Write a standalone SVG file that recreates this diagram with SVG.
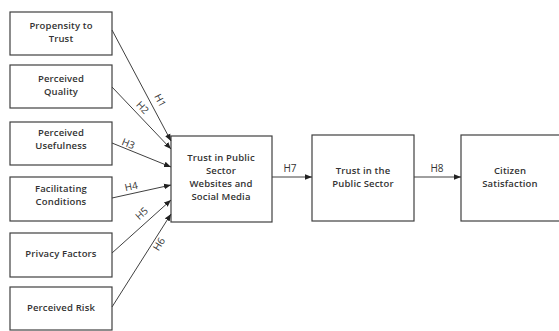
<svg xmlns="http://www.w3.org/2000/svg" width="559" height="331" viewBox="0 0 559 331">
<style>
.box{fill:#fff;stroke:#404040;stroke-width:1.2}
.t{font-family:"Open Sans","Liberation Sans",sans-serif;font-size:9.5px;letter-spacing:0.15px;font-weight:600;fill:#333;text-anchor:middle}
.c{stroke:#404040;stroke-width:1;fill:none;marker-end:url(#ah)}
.l{font-family:"Open Sans","Liberation Sans",sans-serif;font-size:10px;fill:#333;text-anchor:middle}
</style>
<defs>
<marker id="ah" viewBox="0 0 10 10" refX="10" refY="5" markerWidth="7" markerHeight="7" orient="auto" markerUnits="userSpaceOnUse">
<path d="M0,1 L10,5 L0,9 z" fill="#222"/>
</marker>
</defs>
<rect width="559" height="331" fill="#fff"/>
<g id="n1"><rect class="box" x="10" y="12" width="102" height="43"/><text class="t" x="61" y="29">Propensity to</text><text class="t" x="61" y="42">Trust</text></g>
<g id="n2"><rect class="box" x="10" y="65" width="102" height="43"/><text class="t" x="61" y="82">Perceived</text><text class="t" x="61" y="95">Quality</text></g>
<g id="n3"><rect class="box" x="10" y="122" width="102" height="43"/><text class="t" x="61" y="136">Perceived</text><text class="t" x="61" y="149">Usefulness</text></g>
<g id="n4"><rect class="box" x="10" y="177" width="102" height="44"/><text class="t" x="61" y="192">Facilitating</text><text class="t" x="61" y="205">Conditions</text></g>
<g id="n5"><rect class="box" x="10" y="233" width="102" height="44"/><text class="t" x="61" y="257">Privacy Factors</text></g>
<g id="n6"><rect class="box" x="10" y="287" width="102" height="43"/><text class="t" x="61" y="311">Perceived Risk</text></g>
<g id="n7"><rect class="box" x="171" y="136" width="101" height="86"/><text class="t" x="221" y="161">Trust in Public</text><text class="t" x="221" y="174">Sector</text><text class="t" x="221" y="187">Websites and</text><text class="t" x="221" y="200">Social Media</text></g>
<g id="n8"><rect class="box" x="312" y="135" width="102" height="86"/><text class="t" x="363" y="174">Trust in the</text><text class="t" x="363" y="187">Public Sector</text></g>
<g id="n9"><rect class="box" x="461" y="135" width="103" height="86"/><text class="t" x="510" y="174">Citizen</text><text class="t" x="510" y="187">Satisfaction</text></g>
<g id="connectors">
<line class="c" x1="112" y1="30" x2="171" y2="141"/>
<line class="c" x1="112" y1="87" x2="171" y2="149"/>
<line class="c" x1="112" y1="143" x2="171" y2="167"/>
<line class="c" x1="112" y1="198" x2="171" y2="185"/>
<line class="c" x1="112" y1="253" x2="171" y2="200"/>
<line class="c" x1="112" y1="307" x2="171" y2="214"/>
<line class="c" x1="272" y1="177" x2="312" y2="177"/>
<line class="c" x1="414" y1="177" x2="461" y2="177"/>
<text class="l" transform="translate(157,102) rotate(62)">H1</text>
<text class="l" transform="translate(140,110) rotate(46)">H2</text>
<text class="l" transform="translate(127,147) rotate(22)">H3</text>
<text class="l" transform="translate(132,190) rotate(-12)">H4</text>
<text class="l" transform="translate(144,216) rotate(-42)">H5</text>
<text class="l" transform="translate(162,246) rotate(-58)">H6</text>
<text class="l" x="290" y="172">H7</text>
<text class="l" x="437" y="172">H8</text>
</g>
</svg>
